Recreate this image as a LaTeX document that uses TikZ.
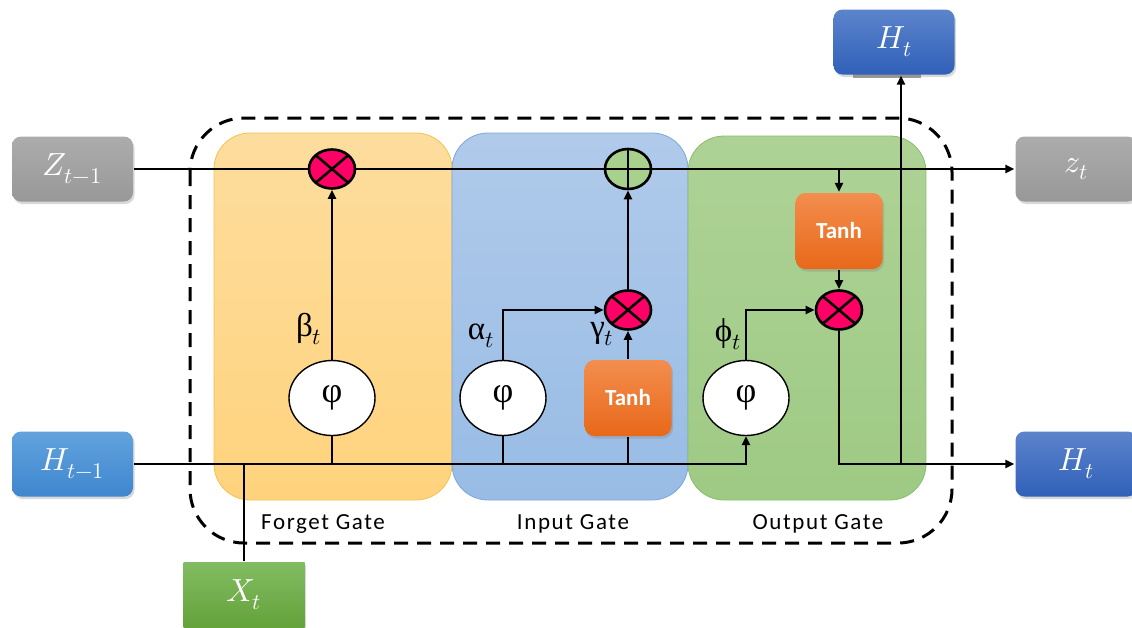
\documentclass[tikz,border=0pt]{standalone}
\usepackage{fontspec}
\usepackage{unicode-math}
\setmainfont{Carlito}
\setmathfont{Latin Modern Math}
\newfontfamily\grk{Liberation Serif}
\usetikzlibrary{shapes.geometric,arrows.meta,shadows}

\definecolor{orgtop}{RGB}{253,221,158}
\definecolor{orgbot}{RGB}{255,211,125}
\definecolor{orgline}{RGB}{244,194,79}
\definecolor{blutop}{RGB}{176,202,234}
\definecolor{blubot}{RGB}{152,188,229}
\definecolor{bluline}{RGB}{126,166,218}
\definecolor{grntop}{RGB}{174,210,150}
\definecolor{grnbot}{RGB}{158,202,132}
\definecolor{grnline}{RGB}{136,190,110}
\definecolor{graytop}{RGB}{172,172,172}
\definecolor{graybot}{RGB}{152,152,152}
\definecolor{lbtop}{RGB}{98,163,222}
\definecolor{lbbot}{RGB}{62,134,206}
\definecolor{dbtop}{RGB}{92,132,204}
\definecolor{dbbot}{RGB}{48,96,184}
\definecolor{xtop}{RGB}{130,188,98}
\definecolor{xbot}{RGB}{100,162,58}
\definecolor{tntop}{RGB}{243,142,78}
\definecolor{tnbot}{RGB}{232,104,26}
\definecolor{mulpink}{RGB}{255,0,102}
\definecolor{addgreen}{RGB}{169,209,142}

\begin{document}
\begin{tikzpicture}[x=1pt,y=-1pt,line width=2.4pt,
  >={Triangle[length=9pt,width=8pt]},
  iobox/.style={rounded corners=9pt,minimum width=121pt,minimum height=65pt,
    inner sep=0pt,text=white,font=\fontsize{32}{34}\selectfont,
    drop shadow={opacity=0.3,shadow xshift=1.5pt,shadow yshift=-2.5pt}},
  graybox/.style={iobox,top color=graytop,bottom color=graybot},
  lightbluebox/.style={iobox,top color=lbtop,bottom color=lbbot},
  darkbluebox/.style={iobox,top color=dbtop,bottom color=dbbot},
  xbox/.style={iobox,rounded corners=0pt,top color=xtop,bottom color=xbot},
  tanhbox/.style={rounded corners=10pt,minimum width=87pt,minimum height=76pt,
    inner sep=0pt,text=white,top color=tntop,bottom color=tnbot,
    font=\fontsize{23}{25}\selectfont\bfseries,
    drop shadow={opacity=0.3,shadow xshift=1.5pt,shadow yshift=-2.5pt}},
  mulop/.style={ellipse,draw,line width=2.6pt,fill=mulpink,minimum width=46pt,
    minimum height=39pt,inner sep=0pt,
    path picture={\draw[line width=2.6pt]
      (path picture bounding box.north west) -- (path picture bounding box.south east)
      (path picture bounding box.south west) -- (path picture bounding box.north east);}},
  addop/.style={ellipse,draw,line width=2.6pt,fill=addgreen,minimum width=46pt,
    minimum height=40pt,inner sep=0pt,
    path picture={\draw[line width=2.6pt]
      (path picture bounding box.north) -- (path picture bounding box.south)
      (path picture bounding box.west) -- (path picture bounding box.east);}},
  sigop/.style={ellipse,draw,line width=1.4pt,fill=white,minimum width=86pt,
    minimum height=75pt,inner sep=0pt,font=\fontsize{36}{38}\selectfont\grk},
  gatelabel/.style={anchor=base,inner sep=0pt,
    font=\fontsize{23}{25}\selectfont\addfontfeature{LetterSpace=7}},
  greeklabel/.style={anchor=base,inner sep=0pt,font=\fontsize{33}{35}\selectfont\grk},
]
\useasboundingbox (0,0) rectangle (1132,627);

% gate panels
\draw[line width=0.8pt,draw=orgline,top color=orgtop,bottom color=orgbot,rounded corners=36pt]
  (214,133) rectangle (452,500);
\draw[line width=0.8pt,draw=bluline,top color=blutop,bottom color=blubot,rounded corners=36pt]
  (452,133) rectangle (688,500);
\draw[line width=0.8pt,draw=grnline,top color=grntop,bottom color=grnbot,rounded corners=36pt]
  (688,136) rectangle (926,500);

% cell boundary
\draw[line width=3pt,dash pattern=on 14pt off 9pt,rounded corners=54pt]
  (190,118) rectangle (952,543);

% gate names
\node[gatelabel] (lforget) at (323,529) {Forget Gate};
\node[gatelabel] (linput) at (573,529) {Input Gate};
\node[gatelabel] (loutput) at (818,529) {Output Gate};

% inputs and outputs
\node[graybox] (zin) at (72.5,169) {$Z_{t-1}$};
\node[graybox] (zout) at (1076,169) {$z_t$};
\node[lightbluebox] (hin) at (72.5,464) {$H_{t-1}$};
\node[darkbluebox] (hout) at (1076,464) {$H_t$};
\fill[gray!75] (853,74) rectangle (921,78);
\node[darkbluebox,drop shadow={opacity=0}] (htop) at (894,42) {$H_t$};
\node[xbox] (xin) at (244,595) {$X_t$};

% operators
\node[mulop] (fm) at (332,169) {};
\node[addop] (ad) at (628,169) {};
\node[mulop] (im) at (628,310) {};
\node[mulop] (om) at (839,310) {};
\node[sigop] (fs) at (332,398) {φ};
\node[sigop] (is) at (503,398) {φ};
\node[sigop] (os) at (746,398) {φ};
\node[tanhbox] (it) at (628,398) {Tanh};
\node[tanhbox] (ot) at (839,231) {Tanh};

% gate activations
\node[greeklabel] (lbeta) at (309,336) {β$_t$};
\node[greeklabel] (lalpha) at (481,339) {α$_t$};
\node[greeklabel] (lgamma) at (602,337) {γ$_t$};
\node[greeklabel] (lphi) at (728,341) {ϕ$_t$};

% junction points
\coordinate (tb) at (839,169);
\coordinate (hj) at (901,464);

% cell state path
\draw (zin.east) -- (fm.west);
\draw (fm.east) -- (ad.west);
\draw[->] (ad.east) -- (zout.west);

% hidden state and input feed
\draw[->] (hin.east) -| (os.south);
\draw (xin.north) -- (xin.north |- hin.east);
\draw (fs.south) -- (fs.south |- hin.east);
\draw (is.south) -- (is.south |- hin.east);
\draw (it.south) -- (it.south |- hin.east);

% forget and input gates
\draw[->] (fs.north) -- (fm.south);
\draw[->] (is.north) |- (im.west);
\draw[->] (it.north) -- (im.south);
\draw[->] (im.north) -- (ad.south);

% output gate
\draw[->] (tb) -- (ot.north);
\draw[->] (ot.south) -- (om.north);
\draw[->] (os.north) |- (om.west);
\draw[->] (om.south) |- (hout.west);
\draw[->] (hj) -- (hj |- htop.south);
\end{tikzpicture}
\end{document}
